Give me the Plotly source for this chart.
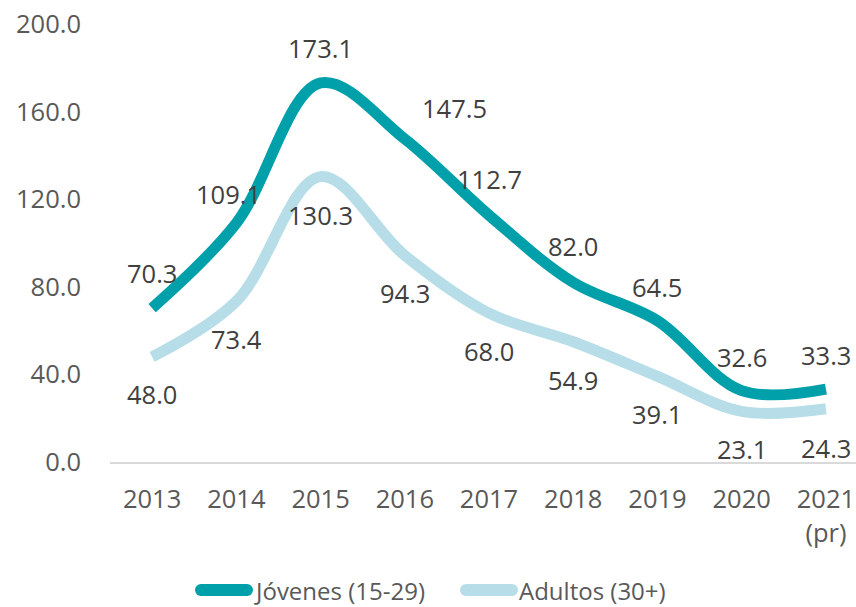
import plotly.graph_objects as go

categories = ["2013", "2014", "2015", "2016", "2017", "2018", "2019", "2020", "2021 (pr)"]
tick_labels = ["2013", "2014", "2015", "2016", "2017", "2018", "2019", "2020", "2021<br>(pr)"]
jovenes = [70.3, 109.1, 173.1, 147.5, 112.7, 82.0, 64.5, 32.6, 33.3]
adultos = [48.0, 73.4, 130.3, 94.3, 68.0, 54.9, 39.1, 23.1, 24.3]
y_ticks = [0, 40, 80, 120, 160, 200]
series_names = ["Jóvenes (15-29)", "Adultos (30+)"]

# data-label offsets in pixels (dx, dy) relative to each point
jov_off = [(0, 35), (-8, 29), (0, 35), (50, 31), (0, 36), (0, 36), (0, 34), (0, 34), (0, 34)]
adu_off = [(0, -37), (0, -38), (0, -38), (0, -38), (0, -38), (0, -38), (0, -38), (0, -38), (0, -39)]

FONT = "Open Sans"
FS = 25.5
LEG_FS = 24
JCOL = "#00A0AA"
ACOL = "#B7DEE8"
LW = 11

# plot-area pixel geometry
L, R, T, B = 110, 856, 24, 462
W, H = R - L, B - T


def px(x):
    return (x - L) / W


def py(y):
    return (B - y) / H


fig = go.Figure()
fig.add_trace(go.Scatter(x=categories, y=jovenes, mode="lines", name=series_names[0],
                         line=dict(color=JCOL, width=LW, shape="spline", smoothing=1.0),
                         showlegend=False, hoverinfo="skip"))
fig.add_trace(go.Scatter(x=categories, y=adultos, mode="lines", name=series_names[1],
                         line=dict(color=ACOL, width=LW, shape="spline", smoothing=1.0),
                         showlegend=False, hoverinfo="skip"))

for vals, offs in ((jovenes, jov_off), (adultos, adu_off)):
    for i, (yv, (dx, dy)) in enumerate(zip(vals, offs)):
        fig.add_annotation(x=i, y=yv, xref="x", yref="y", text=f"{yv:.1f}", showarrow=False,
                           xshift=dx, yshift=dy,
                           font=dict(family=FONT, size=FS, color="#404040"))

# custom legend (thick rounded line symbols + text)
legend_items = [(series_names[0], JCOL, 195, 253), (series_names[1], ACOL, 460, 518)]
ly = 590
for name, col, x0, x1 in legend_items:
    fig.add_shape(type="line", xref="paper", yref="paper",
                  x0=px(x0 + 6), x1=px(x1 - 6), y0=py(ly), y1=py(ly),
                  line=dict(color=col, width=12))
    for cx in (x0 + 6, x1 - 6):
        fig.add_shape(type="circle", xref="paper", yref="paper",
                      xsizemode="pixel", ysizemode="pixel",
                      xanchor=px(cx), yanchor=py(ly),
                      x0=-6, x1=6, y0=-6, y1=6,
                      line=dict(width=0), fillcolor=col)
    fig.add_annotation(xref="paper", yref="paper", x=px(x1), y=py(ly),
                       xanchor="left", yanchor="middle", text=name, showarrow=False,
                       borderpad=0,
                       font=dict(family=FONT, size=LEG_FS, color="#595959"))

fig.update_layout(
    width=856, height=607,
    margin=dict(l=L, r=856 - R, t=T, b=607 - B),
    paper_bgcolor="white", plot_bgcolor="white",
    font=dict(family=FONT, size=FS, color="#595959"),
    showlegend=False,
)
fig.update_xaxes(type="category", range=[-0.5, 8.357], showline=True, linecolor="#D9D9D9",
                 linewidth=1.5, showgrid=False, ticks="", ticklabelstandoff=14,
                 tickvals=categories, ticktext=tick_labels,
                 tickfont=dict(family=FONT, size=FS, color="#595959"))
fig.update_yaxes(range=[0, 200], tickvals=y_ticks, ticktext=[f"{v:.1f}" for v in y_ticks],
                 showgrid=False, zeroline=False, showline=False, ticks="",
                 ticklabelstandoff=28,
                 tickfont=dict(family=FONT, size=FS, color="#595959"))

fig.write_html("out.html", config={"displayModeBar": False},
               post_script="document.body.style.margin='0px';document.body.style.overflow='hidden';")
